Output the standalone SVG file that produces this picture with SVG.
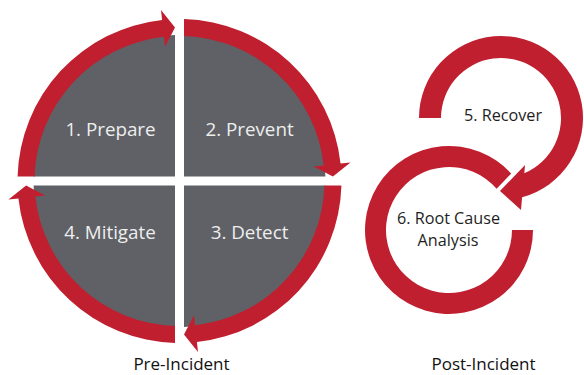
<svg xmlns="http://www.w3.org/2000/svg" xmlns:xlink="http://www.w3.org/1999/xlink" width="584" height="375" viewBox="0 0 584 375">
  <style>
    .sector { fill: #5f6166; }
    .arrow { fill: #c01f30; }
    .qlabel { font-family: "Open Sans", "Liberation Sans", sans-serif; font-size: 18.8px; fill: #eeeeee; text-anchor: middle; }
    .rlabel { font-family: "Open Sans", "Liberation Sans", sans-serif; font-size: 16.2px; fill: #1e1e1e; text-anchor: middle; }
    .caption { font-family: "Open Sans", "Liberation Sans", sans-serif; font-size: 17px; fill: #111111; text-anchor: middle; }
  </style>
  <defs>
    <!-- one quarter of the cycle, drawn in the top-left position; the others are rotations about (179.5,181) -->
    <path id="q-sector" d="M175,176.5 L33.57,176.5 A146,146 0 0 1 175,35.07 Z"/>
    <path id="q-arrow" d="M17.56,176.5 A162,162 0 0 1 162.09,19.94 L161,10 L175,27.6 L165,46.8 L163.91,36.84 A145,145 0 0 0 34.57,176.5 Z"/>
  </defs>
  <rect width="584" height="375" fill="#ffffff"/>

  <!-- pre-incident cycle: four quadrants -->
  <g id="prepare">
    <use xlink:href="#q-sector" href="#q-sector" class="sector"/>
    <text class="qlabel" x="110.5" y="136">1. Prepare</text>
  </g>
  <g id="prevent">
    <use xlink:href="#q-sector" href="#q-sector" class="sector" transform="rotate(90 179.5 181)"/>
    <text class="qlabel" x="249.5" y="136">2. Prevent</text>
  </g>
  <g id="detect">
    <use xlink:href="#q-sector" href="#q-sector" class="sector" transform="rotate(180 179.5 181)"/>
    <text class="qlabel" x="249.5" y="239">3. Detect</text>
  </g>
  <g id="mitigate">
    <use xlink:href="#q-sector" href="#q-sector" class="sector" transform="rotate(270 179.5 181)"/>
    <text class="qlabel" x="110" y="239">4. Mitigate</text>
  </g>

  <!-- post-incident stages -->
  <g id="recover">
    <text class="rlabel" x="503" y="121">5. Recover</text>
  </g>
  <g id="root-cause">
    <text class="rlabel" x="448.5" y="224">6. Root Cause</text>
    <text class="rlabel" x="448" y="246">Analysis</text>
  </g>

  <!-- cycle arrows -->
  <g id="connectors" class="arrow">
    <use xlink:href="#q-arrow" href="#q-arrow"/>
    <use xlink:href="#q-arrow" href="#q-arrow" transform="rotate(90 179.5 181)"/>
    <use xlink:href="#q-arrow" href="#q-arrow" transform="rotate(180 179.5 181)"/>
    <use xlink:href="#q-arrow" href="#q-arrow" transform="rotate(270 179.5 181)"/>
    <path d="M419,118 A82,82 0 1 1 522.1,197.2 L521,210 L500,191 L525,165 L524.3,173.3 A60,60 0 1 0 441,118 Z"/>
    <path d="M533,230 A84,84 0 1 1 511.22,173.57 L496.63,188.75 A63,63 0 1 0 512,230 Z"/>
  </g>

  <!-- captions -->
  <g id="captions">
    <text class="caption" x="181.5" y="370">Pre-Incident</text>
    <text class="caption" x="483.5" y="370">Post-Incident</text>
  </g>
</svg>
